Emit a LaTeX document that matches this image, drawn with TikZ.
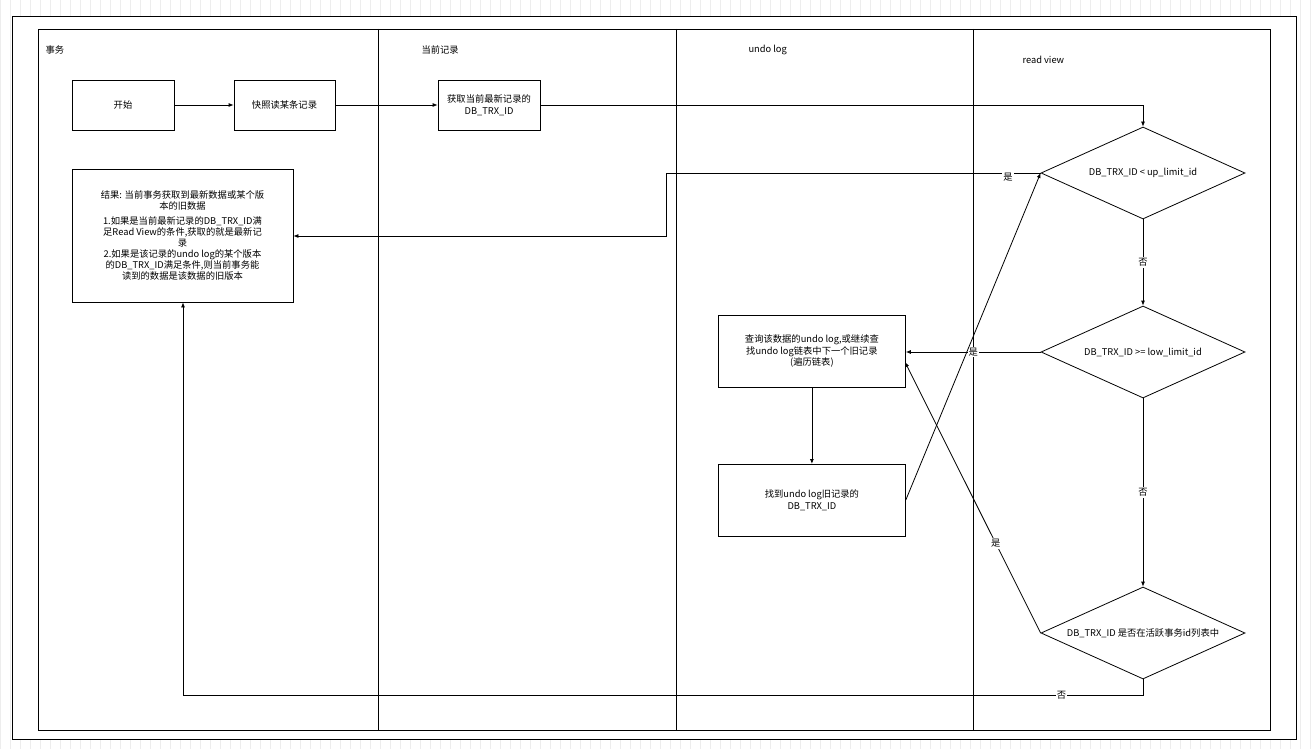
\documentclass[tikz,border=0pt]{standalone}
\usepackage{fontspec}
\setmainfont{Noto Sans CJK SC}
\usetikzlibrary{shapes.geometric,arrows.meta}
\begin{document}
\begin{tikzpicture}[x=1pt,y=-1pt,font=\fontsize{9.3}{11.5}\selectfont,
  box/.style={draw,thick,align=center,inner sep=2pt},
  dia/.style={draw,thick,diamond,aspect=2.2,minimum width=204pt,minimum height=92pt,inner sep=0pt,align=center},
  arr/.style={-{Latex[length=5pt,width=4pt]},thick},
  lbl/.style={fill=white,inner sep=1pt}]
\useasboundingbox (0,0) rectangle (1315,749);
\fill[white] (0,0) rectangle (1315,749);
\draw[black!7,step=10] (0,0) grid (1315,749);
\fill[white] (12,16) rectangle (1296,739);
\draw[thick] (12,16) rectangle (1296,739);
\draw[thick] (38,29) rectangle (1270,730);
\foreach \x in {378,676,973} \draw[thick] (\x,29) -- (\x,730);
\node[anchor=west] (t1) at (42,50) {事务};
\node[anchor=west] (t2) at (418,50) {当前记录};
\node[anchor=west] (t3) at (745,50) {undo log};
\node[anchor=west] (t4) at (1019,60) {read view};
\node[box,minimum width=102pt,minimum height=50pt] (start) at (123,105) {开始};
\node[box,minimum width=101pt,minimum height=50pt] (snap) at (284.5,105) {快照读某条记录};
\node[box,minimum width=102pt,minimum height=50pt] (get) at (489,105) {获取当前最新记录的\\DB\_TRX\_ID};
\node[box,minimum width=221pt,minimum height=133pt,font=\fontsize{9.3}{11}\selectfont] (res) at (182.5,235.5) {结果: 当前事务获取到最新数据或某个版\\本的旧数据\\[4pt]1.如果是当前最新记录的DB\_TRX\_ID满\\足Read View的条件,获取的就是最新记\\录\\2.如果是该记录的undo log的某个版本\\的DB\_TRX\_ID满足条件,则当前事务能\\读到的数据是该数据的旧版本};
\node[box,minimum width=187pt,minimum height=72pt,anchor=north west] (q) at (718,315) {查询该数据的undo log,或继续查\\找undo log链表中下一个旧记录\\(遍历链表)};
\node[box,minimum width=187pt,minimum height=72pt,anchor=north west] (f) at (718,464) {找到undo log旧记录的\\DB\_TRX\_ID};
\node[dia] (d1) at (1143,173) {DB\_TRX\_ID < up\_limit\_id};
\node[dia] (d2) at (1143,352) {DB\_TRX\_ID >= low\_limit\_id};
\node[dia] (d3) at (1143,633) {DB\_TRX\_ID 是否在活跃事务id列表中};
\draw[arr] (start) -- (snap);
\draw[arr] (snap) -- (get);
\draw[arr] (get.east) -| (d1.north);
\draw[arr] (d1.west) -- (666,173) -- (666,236) -- (res.east |- 0,236);
\node[lbl] (y1) at (1008,177) {是};
\draw[arr] (d1.south) -- node[lbl] (n1) {否} (d2.north);
\draw[arr] (d2.west) -- node[lbl,pos=0.5] (y2) {是} (q.east |- 0,352);
\draw[arr] (d2.south) -- node[lbl] (n2) {否} (d3.north);
\draw[arr] (d3.west) -- node[lbl,pos=0.33] (y3) {是} (905,362);
\draw[arr] (f.east |- 0,500) -- (d1.west);
\draw[arr] (q) -- (f);
\draw[arr] (d3.south) -- (1143,695) -- node[lbl,pos=0.085] (n3) {否} (183,695) -- (res.south -| 183,0);
\end{tikzpicture}
\end{document}
